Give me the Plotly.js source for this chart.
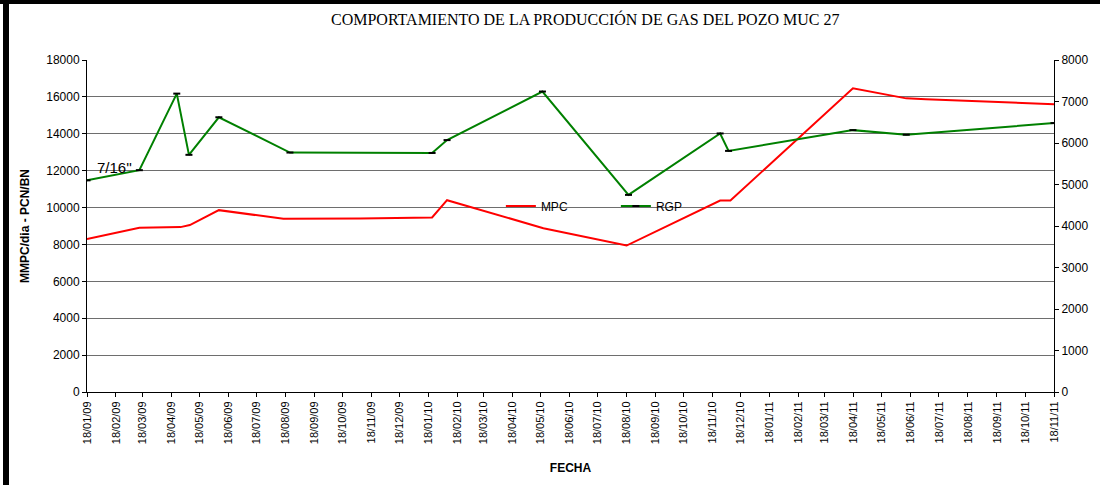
<!DOCTYPE html>
<html>
<head>
<meta charset="utf-8">
<script src="https://cdn.plot.ly/plotly-3.0.1.min.js"></script>
<style>
  html, body { margin: 0; padding: 0; background: #fff; }
  #chart { width: 1100px; height: 485px; position: relative; }
  #bl { position: absolute; left: 3px; top: 0; width: 6px; height: 485px; background: #000; z-index: 5; }
  #bt { position: absolute; left: 0; top: 0; width: 1100px; height: 4px; background: #000; z-index: 5; }
</style>
</head>
<body>
<div id="bl"></div><div id="bt"></div>
<div id="chart"></div>
<script>
// MPC (left axis, MMPC/dia)
const mpcDates = ['2009-01-18','2009-03-15','2009-04-28','2009-05-08','2009-06-08','2009-08-16','2009-11-06','2010-01-22','2010-02-07','2010-05-21','2010-08-18','2010-11-26','2010-12-07','2011-04-17','2011-06-13','2011-07-04','2011-11-18'];
const mpcValues = [8290, 8900, 8940, 9050, 9860, 9390, 9400, 9460, 10400, 8880, 7940, 10380, 10380, 16470, 15920, 15870, 15600];

// RGP (right axis, PCN/BN)
const rgpDates = ['2009-01-18','2009-03-15','2009-04-24','2009-05-07','2009-06-08','2009-08-23','2010-01-22','2010-02-07','2010-05-20','2010-08-20','2010-11-26','2010-12-05','2011-04-17','2011-06-13','2011-11-18'];
const rgpValues = [5100, 5345, 7190, 5715, 6620, 5770, 5760, 6070, 7240, 4750, 6230, 5810, 6310, 6200, 6480];

const chartTitle = 'COMPORTAMIENTO DE LA PRODUCCIÓN DE GAS DEL POZO MUC 27';
const leftTitle = 'MMPC/dia - PCN/BN';
const xTitle = 'FECHA';
const chokeLabel = "7/16''";

const traces = [
  { x: mpcDates, y: mpcValues, name: 'MPC', type: 'scatter', mode: 'lines',
    line: { color: '#FF0000', width: 2 }, yaxis: 'y' },
  { x: rgpDates, y: rgpValues, name: 'RGP', type: 'scatter', mode: 'lines+markers',
    line: { color: '#008000', width: 2 },
    marker: { symbol: 'line-ew', size: 5, color: '#000', line: { color: '#000', width: 2 } },
    yaxis: 'y2' }
];

const f = 'Liberation Sans, Arial, sans-serif';
const layout = {
  width: 1100, height: 485,
  margin: { l: 87, r: 46, t: 60, b: 93 },
  paper_bgcolor: '#fff', plot_bgcolor: '#fff',
  showlegend: true,
  title: { text: chartTitle, font: { family: 'Liberation Serif, Times New Roman, serif', size: 16, color: '#000' },
           x: 0.532, xref: 'container', xanchor: 'center', y: 0.959, yref: 'container', yanchor: 'middle' },
  xaxis: {
    type: 'date', range: ['2009-01-18', '2011-11-18'],
    tick0: '2009-01-18', dtick: 'M1', tickformat: '%d/%m/%y', tickangle: -90,
    ticks: 'outside', ticklen: 4, tickcolor: '#000',
    showline: true, linecolor: '#000', linewidth: 1, showgrid: false, zeroline: false,
    tickfont: { family: f, size: 11, color: '#000' },
    title: { text: xTitle, font: { family: f, size: 12, color: '#000', weight: 'bold' }, standoff: 20 }
  },
  yaxis: {
    range: [0, 18000], dtick: 2000, tickformat: 'd', ticks: 'outside', ticklen: 4, tickcolor: '#000',
    showline: true, linecolor: '#000', linewidth: 1,
    showgrid: true, gridcolor: '#6e6e6e', gridwidth: 1, zeroline: false,
    tickfont: { family: f, size: 12, color: '#000' },
    title: { text: leftTitle, font: { family: f, size: 12, color: '#000', weight: 'bold' }, standoff: 14 }
  },
  yaxis2: {
    range: [0, 8000], dtick: 1000, tickformat: 'd', overlaying: 'y', side: 'right',
    ticks: 'outside', ticklen: 4, tickcolor: '#000',
    showline: true, linecolor: '#000', linewidth: 1, showgrid: false, zeroline: false,
    tickfont: { family: f, size: 12, color: '#000' }
  },
  legend: {
    orientation: 'h', x: 0.428, xanchor: 'left', y: 0.56, yanchor: 'middle',
    bgcolor: 'rgba(0,0,0,0)', borderwidth: 0, entrywidth: 70, entrywidthmode: 'pixels',
    font: { family: f, size: 12, color: '#000' }
  },
  annotations: [
    { x: '2009-02-16', y: 12150, xref: 'x', yref: 'y', text: chokeLabel, showarrow: false,
      font: { family: f, size: 15, color: '#000' } }
  ]
};

Plotly.newPlot('chart', traces, layout, { displayModeBar: false, staticPlot: true });
</script>
</body>
</html>
